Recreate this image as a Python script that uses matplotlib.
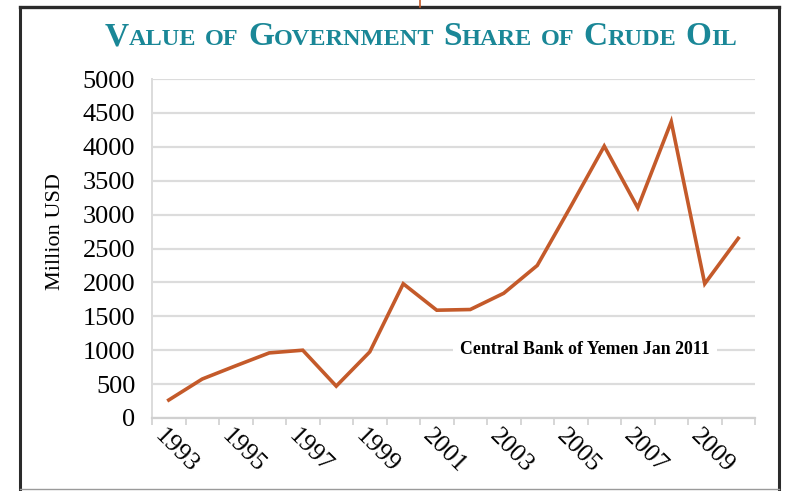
import numpy as np
import matplotlib
matplotlib.use('Agg')
import matplotlib.pyplot as plt
from matplotlib.lines import Line2D
from matplotlib.transforms import ScaledTranslation

plt.rcParams['font.family'] = 'Liberation Serif'

# ---- data ----
years = [1993, 1994, 1995, 1996, 1997, 1998, 1999, 2000, 2001,
         2002, 2003, 2004, 2005, 2006, 2007, 2008, 2009, 2010]
value = [265, 575, 770, 960, 1000, 470, 975, 1980, 1590,
         1600, 1840, 2250, 3120, 4010, 3100, 4370, 1980, 2650]
yticks = [0, 500, 1000, 1500, 2000, 2500, 3000, 3500, 4000, 4500, 5000]
title = 'Value of Government Share of Crude Oil'
source = 'Central Bank of Yemen Jan 2011'

W, H = 791, 491
fig = plt.figure(figsize=(W/100, H/100), dpi=100)
ax = fig.add_axes([152/W, 1-418/H, (755-152)/W, (418-79)/H])

x = np.arange(len(years))
ax.plot(x, value, color='#c45a2a', lw=2.6, solid_joinstyle='miter', zorder=3)

ax.set_xlim(-0.5, len(years)-0.5)
ax.set_ylim(0, 5000)
ax.set_yticks(yticks)
ax.set_yticklabels([str(v) for v in yticks], fontsize=19)
ax.tick_params(axis='y', length=0, pad=12)
ax.yaxis.grid(True, color='#dcdcdc', lw=1.6)
ax.set_axisbelow(True)

# category boundaries as major ticks, labels every other year as minor ticks
ax.set_xticks(np.arange(-0.5, len(years)), [''] * (len(years)+1))
ax.set_xticks(x[::2], [str(y) for y in years[::2]], minor=True)
ax.tick_params(axis='x', which='major', length=5, color='#d0d0d0', width=1.2)
ax.tick_params(axis='x', which='minor', length=0, pad=5, labelsize=18.5)
for lab in ax.get_xticklabels(minor=True):
    lab.set_rotation(-45)
    lab.set_ha('left')
    lab.set_va('top')
    lab.set_rotation_mode('anchor')
    lab.set_transform(lab.get_transform() + ScaledTranslation(-3/100, 0, fig.dpi_scale_trans))

for s in ['top', 'right']:
    ax.spines[s].set_visible(False)
ax.spines['left'].set_color('#dcdcdc')
ax.spines['bottom'].set_color('#d0d0d0')
ax.spines['left'].set_linewidth(1.4)
ax.spines['bottom'].set_linewidth(1.6)

fig.text(55/W, 1-232/H, 'Million USD', rotation=90, ha='center', va='center', fontsize=16)

ax.text(585/W, 1-350/H, source, transform=fig.transFigure, ha='center', va='center',
        fontsize=12.8, fontweight='bold', zorder=4,
        bbox=dict(facecolor='white', edgecolor='none', pad=5))

# ---- frame around the figure ----
fig.add_artist(Line2D([20/W, 779/W], [1-7/H, 1-7/H], color='#2b2b2b', lw=2.4, transform=fig.transFigure))
fig.add_artist(Line2D([20/W, 20/W], [1-7/H, 0], color='#2b2b2b', lw=2.2, transform=fig.transFigure))
fig.add_artist(Line2D([779/W, 779/W], [1-7/H, 0], color='#2b2b2b', lw=2.2, transform=fig.transFigure))
fig.add_artist(Line2D([20/W, 779/W], [1-489/H, 1-489/H], color='#9a9a9a', lw=1.0, transform=fig.transFigure))
fig.add_artist(Line2D([420/W, 420/W], [1, 1-7/H], color='#c45a2a', lw=1.2, transform=fig.transFigure))

# ---- small-caps title ----
renderer = fig.canvas.get_renderer()
big, small = 24, 17.5
tcolor = '#1a8797'
runs = []
for word in title.split(' '):
    parts = []
    for ch in word:
        sz = big if ch.isupper() else small
        if parts and parts[-1][1] == sz:
            parts[-1][0] += ch.upper()
        else:
            parts.append([ch.upper(), sz])
    runs.append(parts)

texts = []
xpos = 0.0
space = 9.0
for i, parts in enumerate(runs):
    if i:
        xpos += space
    for s, sz in parts:
        t = fig.text(0, 0, s, fontsize=sz, color=tcolor, ha='left', va='baseline',
                     fontweight='bold', transform=None)
        w = t.get_window_extent(renderer).width
        texts.append((t, xpos))
        xpos += w
total = xpos
x0 = 421 - total/2
for t, off in texts:
    t.set_position((x0 + off, H - 45))

fig.savefig('out.png', dpi=100)
